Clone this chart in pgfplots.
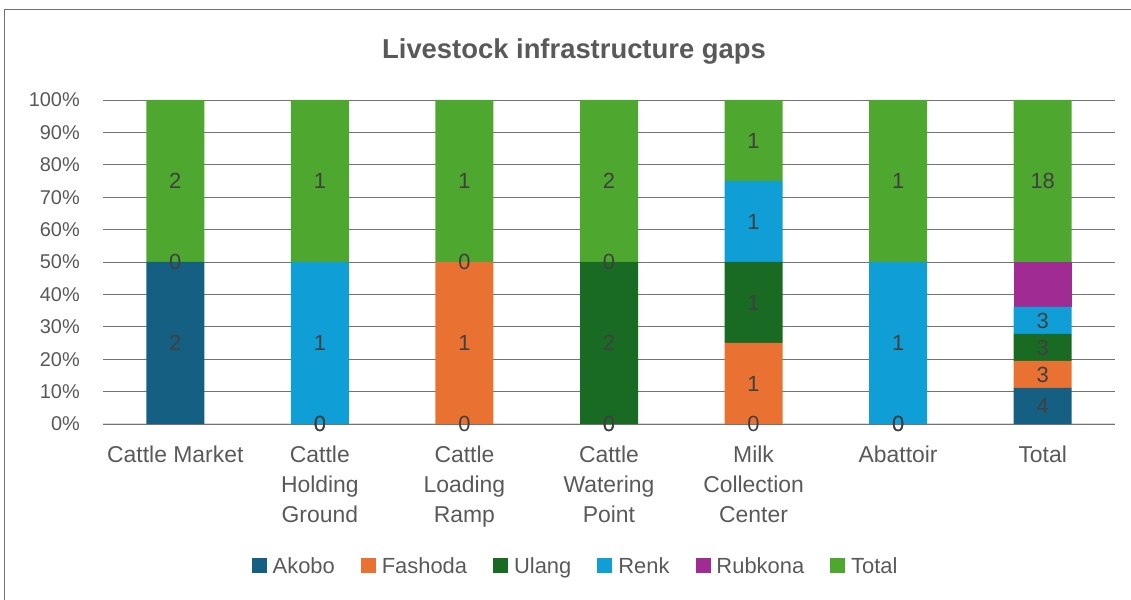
\documentclass[border=0pt]{standalone}
\usepackage{pgfplots}
\pgfplotsset{compat=1.18}
\usepackage{pgfplotstable}
\usepackage{fontspec}
\setmainfont{Liberation Sans}
\definecolor{cAkobo}{HTML}{156082}
\definecolor{cFashoda}{HTML}{E97132}
\definecolor{cUlang}{HTML}{196B24}
\definecolor{cRenk}{HTML}{0F9ED5}
\definecolor{cRubkona}{HTML}{A02B93}
\definecolor{cTotal}{HTML}{4EA72E}
\definecolor{txt}{HTML}{595959}
\definecolor{lbl}{HTML}{404040}

\pgfplotstableread{
x Akobo Fashoda Ulang Renk Rubkona Total Sum
0 2 0 0 0 0 2 4
1 0 0 0 1 0 1 2
2 0 1 0 0 0 1 2
3 0 0 2 0 0 2 4
4 0 1 1 1 0 1 4
5 0 0 0 1 0 1 2
6 4 3 3 3 5 18 36
}\gaps

\begin{document}
\begin{tikzpicture}[x=1bp,y=1bp]
\useasboundingbox (0,0) rectangle (1131,600);
\draw[black!55, line width=1bp] (4,0) -- (4,590) -- (1131,590);
\node[font=\fontsize{27.5}{32}\selectfont\bfseries, text=txt, anchor=base] at (574,541) {Livestock infrastructure gaps};
\begin{axis}[
  at={(103bp,176bp)}, anchor=south west,
  scale only axis, width=1012bp, height=324bp,
  xmin=-0.5, xmax=6.5, ymin=0, ymax=100,
  ybar stacked, bar width=58bp,
  axis x line*=bottom, axis y line*=left,
  x axis line style={draw=black!15, line width=1bp, -},
  y axis line style={draw=none},
  ymajorgrids, grid style={black!55, line width=0.9bp},
  major tick length=0pt,
  /pgf/number format/assume math mode=true,
  ytick={0,10,...,100},
  yticklabel={\pgfmathprintnumber{\tick}\%},
  yticklabel style={font=\fontsize{20}{24}\selectfont, text=txt, inner sep=0pt, anchor=east, xshift=-23bp},
  xtick={0,...,6},
  xticklabels={Cattle Market, {Cattle\\Holding\\Ground}, {Cattle\\Loading\\Ramp}, {Cattle\\Watering\\Point}, {Milk\\Collection\\Center}, Abattoir, Total},
  xticklabel style={font=\fontsize{23}{30}\selectfont, text=txt, align=center, anchor=north, inner sep=0pt, yshift=-22bp},
  legend style={at={(0.467,-0.438)}, anchor=center, legend columns=-1, draw=none, fill=none,
    font=\fontsize{22}{26}\selectfont, text=txt,
    /tikz/every odd column/.append style={column sep=4bp},
    /tikz/every even column/.append style={column sep=24bp}},
  legend image code/.code={\fill[#1] (0bp,-7.5bp) rectangle (15bp,7.5bp);},
]
\addplot[fill=cAkobo, draw=none] table[x=x, y expr=\thisrow{Akobo}/\thisrow{Sum}*100] {\gaps};
\addplot[fill=cFashoda, draw=none] table[x=x, y expr=\thisrow{Fashoda}/\thisrow{Sum}*100] {\gaps};
\addplot[fill=cUlang, draw=none] table[x=x, y expr=\thisrow{Ulang}/\thisrow{Sum}*100] {\gaps};
\addplot[fill=cRenk, draw=none] table[x=x, y expr=\thisrow{Renk}/\thisrow{Sum}*100] {\gaps};
\addplot[fill=cRubkona, draw=none] table[x=x, y expr=\thisrow{Rubkona}/\thisrow{Sum}*100] {\gaps};
\addplot[fill=cTotal, draw=none] table[x=x, y expr=\thisrow{Total}/\thisrow{Sum}*100] {\gaps};
\legend{Akobo, Fashoda, Ulang, Renk, Rubkona, Total}
\end{axis}
\begin{axis}[
  at={(103bp,176bp)}, anchor=south west,
  scale only axis, width=1012bp, height=324bp,
  xmin=-0.5, xmax=6.5, ymin=0, ymax=100,
  hide axis, clip=false,
]
\addplot[draw=none, mark=none, nodes near coords={\pgfplotspointmeta}, point meta=explicit symbolic,
  nodes near coords style={anchor=center, inner sep=0pt, font=\fontsize{22}{26}\selectfont, text=lbl}]
coordinates {
(0,25) [2] (0,50) [0] (0,75) [2]
(1,0) [0] (1,0) [0] (1,25) [1] (1,75) [1]
(2,0) [0] (2,25) [1] (2,50) [0] (2,75) [1]
(3,0) [0] (3,0) [0] (3,25) [2] (3,50) [0] (3,75) [2]
(4,0) [0] (4,12.5) [1] (4,37.5) [1] (4,62.5) [1] (4,87.5) [1]
(5,0) [0] (5,0) [0] (5,25) [1] (5,75) [1]
(6,5.556) [4] (6,15.278) [3] (6,23.611) [3] (6,31.944) [3] (6,75) [18]
};
\end{axis}
\end{tikzpicture}
\end{document}
